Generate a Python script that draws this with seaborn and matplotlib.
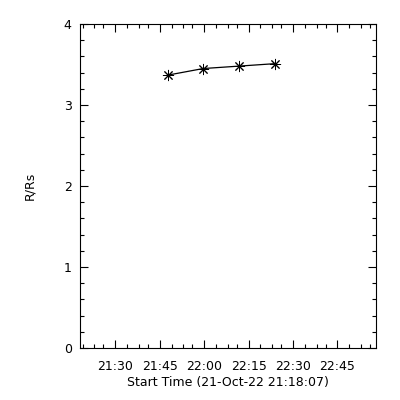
import matplotlib
matplotlib.use("Agg")
import matplotlib.pyplot as plt
import matplotlib.dates as mdates
import seaborn as sns
import pandas as pd
from matplotlib.ticker import MultipleLocator

# data
times = ["2022-10-21 21:47:55", "2022-10-21 21:59:40", "2022-10-21 22:11:45", "2022-10-21 22:23:45"]
r_rs = [3.37, 3.45, 3.48, 3.51]
x_start = "2022-10-21 21:18:07"
x_end = "2022-10-21 22:58:00"

df = pd.DataFrame({"time": pd.to_datetime(times), "R/Rs": r_rs})

sns.set_style("ticks")
plt.rcParams["font.family"] = ["DejaVu Sans"]
plt.rcParams["text.color"] = "black"
plt.rcParams["axes.labelcolor"] = "black"
plt.rcParams["xtick.color"] = "black"
plt.rcParams["ytick.color"] = "black"

fig = plt.figure(figsize=(4, 4), dpi=100)
ax = fig.add_axes([0.2, 0.13, 0.74, 0.81])

sns.lineplot(data=df, x="time", y="R/Rs", ax=ax, color="black", linewidth=0.9,
             marker=(8, 2, 0), markersize=8, markeredgewidth=0.7,
             markeredgecolor="black")

ax.set_xlim(pd.Timestamp(x_start), pd.Timestamp(x_end))
ax.set_ylim(0, 4)

ax.xaxis.set_major_locator(mdates.MinuteLocator(byminute=[0, 15, 30, 45]))
ax.xaxis.set_minor_locator(mdates.MinuteLocator(byminute=[0, 15, 30, 45, 4, 8, 11, 19, 23, 26, 34, 38, 41, 49, 53, 56]))
ax.xaxis.set_major_formatter(mdates.DateFormatter("%H:%M"))
ax.yaxis.set_major_locator(MultipleLocator(1))
ax.yaxis.set_minor_locator(MultipleLocator(0.2))

ax.tick_params(which="both", direction="in", top=True, right=True,
               labelsize=9, width=0.8, colors="black")
ax.tick_params(axis="x", which="major", length=6, pad=9)
ax.tick_params(axis="y", which="major", length=6, pad=6)
ax.tick_params(which="minor", length=3)

for s in ax.spines.values():
    s.set_linewidth(0.8)
    s.set_color("black")

ax.set_xlabel("Start Time (21-Oct-22 21:18:07)", fontsize=9, labelpad=2, color="black")
ax.set_ylabel("R/Rs", fontsize=9, labelpad=20, color="black")

fig.savefig("out.png", dpi=100, facecolor="white")
